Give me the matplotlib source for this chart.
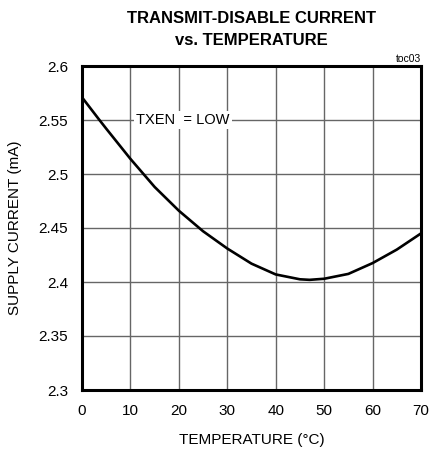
import matplotlib
matplotlib.use('Agg')
import matplotlib.pyplot as plt
from matplotlib import font_manager

# Data
temp = [0, 3.6, 5, 10, 15, 20, 25, 30, 35, 40, 45, 47, 50, 55, 60, 65, 70]
current = [2.571, 2.550, 2.542, 2.514, 2.488, 2.466, 2.447, 2.431, 2.417,
           2.407, 2.4025, 2.402, 2.403, 2.4075, 2.4175, 2.430, 2.445]
x_ticks = [0, 10, 20, 30, 40, 50, 60, 70]
y_ticks = [2.3, 2.35, 2.4, 2.45, 2.5, 2.55, 2.6]
y_labels = ['2.3', '2.35', '2.4', '2.45', '2.5', '2.55', '2.6']

names = {f.name for f in font_manager.fontManager.ttflist}
narrow = 'Liberation Sans Narrow' if 'Liberation Sans Narrow' in names else 'Liberation Sans'
plt.rcParams['font.family'] = [narrow, 'DejaVu Sans']

fig = plt.figure(figsize=(4.4, 4.51), dpi=100)
ax = fig.add_axes([82 / 440, 1 - 390 / 451, 339 / 440, 324 / 451])

ax.plot(temp, current, color='black', linewidth=1.9, zorder=3,
        solid_joinstyle='round')

ax.set_xlim(0, 70)
ax.set_ylim(2.3, 2.6)
ax.set_xticks(x_ticks)
ax.set_yticks(y_ticks)
ax.set_yticklabels(y_labels)
ax.tick_params(length=0, labelsize=11, pad=10)
ax.grid(True, color='#666666', linewidth=1.0)
for s in ax.spines.values():
    s.set_linewidth(2.2)

ax.set_xlabel('TEMPERATURE (\u00b0C)', fontsize=11, labelpad=11)
ax.set_ylabel('SUPPLY CURRENT (mA)', fontsize=11, labelpad=12)

ax.text(11.2, 2.55, 'TXEN  = LOW', fontsize=10.5, va='center', ha='left',
        bbox=dict(facecolor='white', edgecolor='none', pad=1.5), zorder=4)

fig.text(251 / 440, 1 - 23 / 451, 'TRANSMIT-DISABLE CURRENT',
         ha='center', va='baseline', fontsize=12, fontweight='bold')
fig.text(251 / 440, 1 - 45 / 451, 'vs. TEMPERATURE',
         ha='center', va='baseline', fontsize=12, fontweight='bold')
fig.text(421 / 440, 1 - 62 / 451, 'toc03', ha='right', va='baseline', fontsize=7.5)

fig.savefig('out.png', dpi=100)
